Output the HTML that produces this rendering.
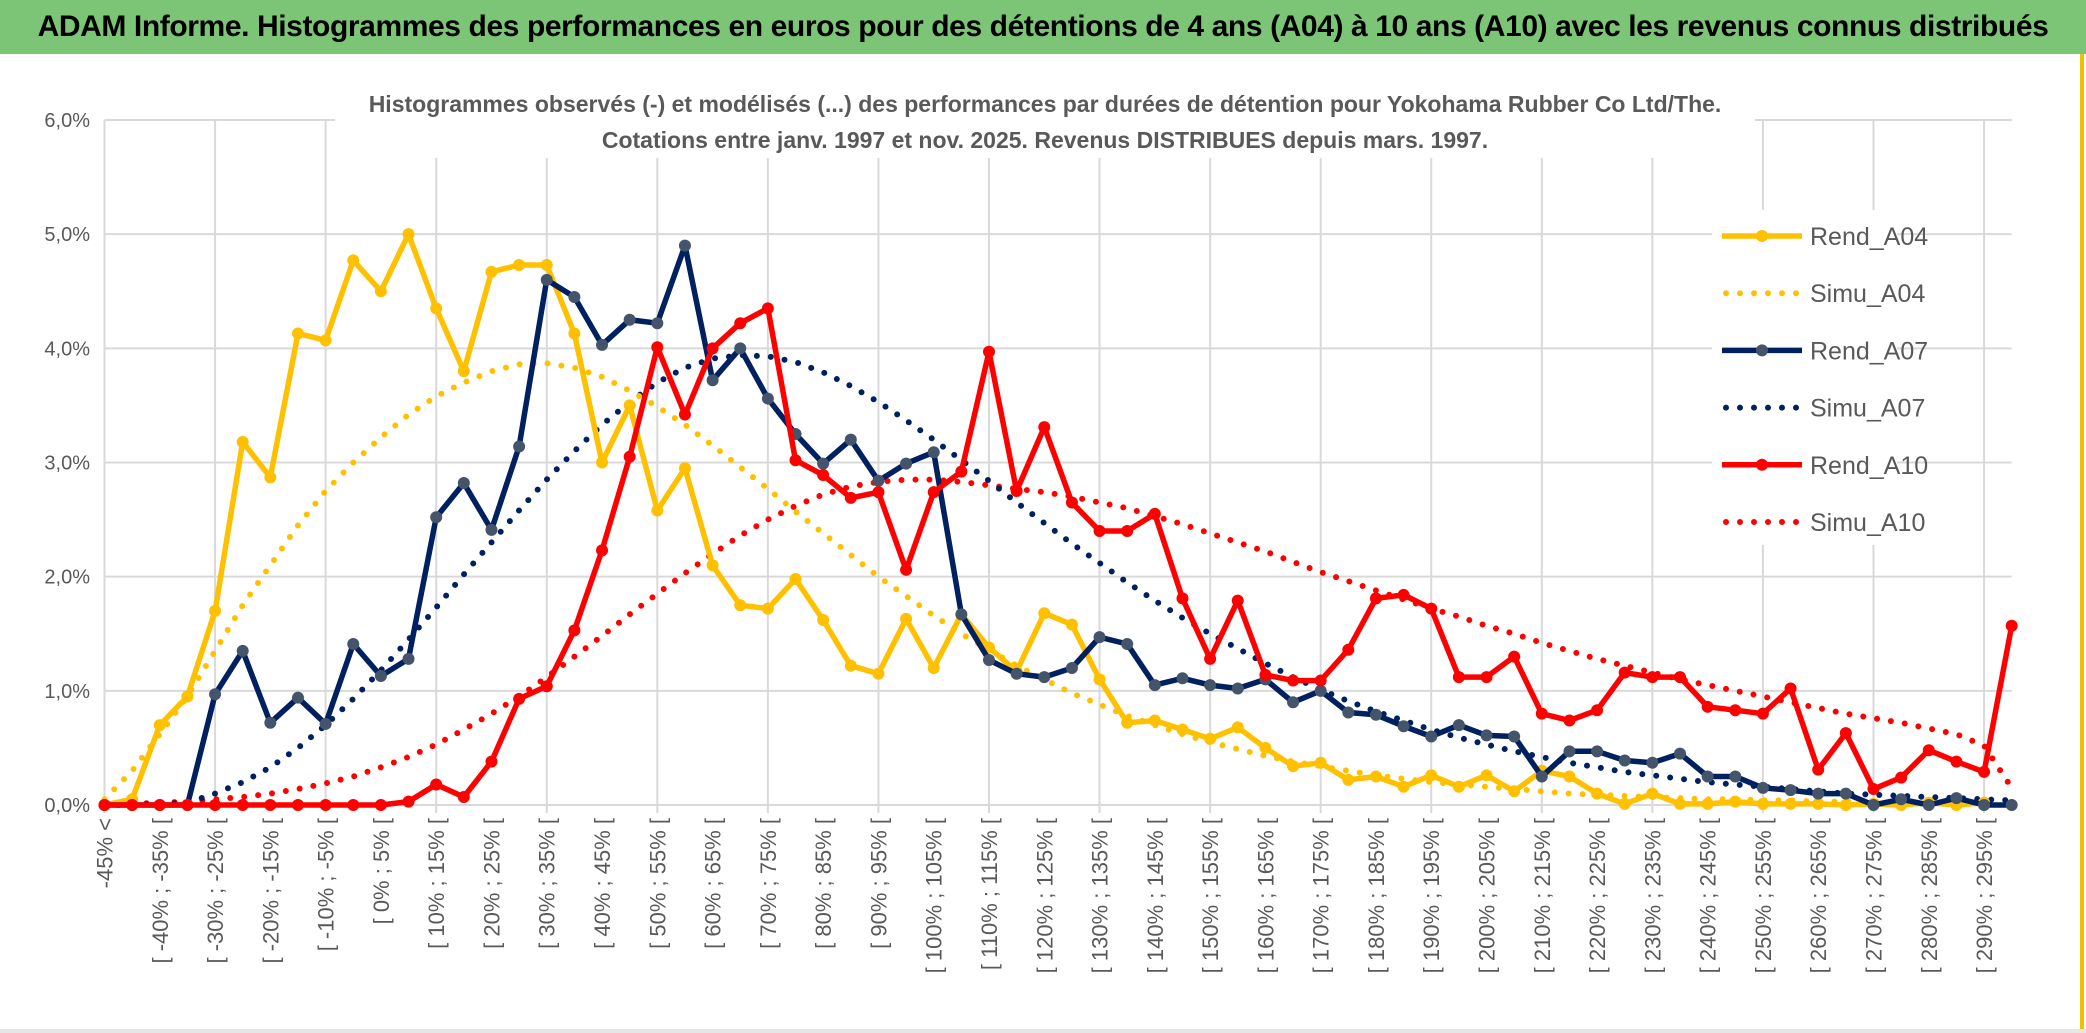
<!DOCTYPE html>
<html><head><meta charset="utf-8">
<style>
html,body{margin:0;padding:0;background:#fff;}
body{width:2086px;height:1033px;overflow:hidden;position:relative;font-family:"Liberation Sans",Arial,sans-serif;}
#title{position:absolute;left:0;top:0;width:2086px;height:54px;background:#7cc576;color:#000;font-weight:bold;font-size:30px;line-height:54px;text-align:center;white-space:nowrap;letter-spacing:-0.4px;}
#frame{position:absolute;left:2080px;top:54px;width:4px;height:979px;background:#f2c200;}
#frameb{position:absolute;left:0;top:1029px;width:2086px;height:4px;background:#e6e6e6;}
svg{position:absolute;left:0;top:0;}
</style></head>
<body>
<div id="title">ADAM Informe. Histogrammes des performances en euros pour des détentions de 4 ans (A04) à 10 ans (A10) avec les revenus connus distribués</div>
<div id="frame"></div>
<div id="frameb"></div>
<svg id="chart" width="2086" height="1033"></svg>
<script>
const categories=[];
categories.push("-45% <");
for(let v=-45;v<300;v+=5){categories.push("[ "+v+"% ; "+(v+5)+"% [");}
const rendA04=[0,0.05,0.7,0.95,1.7,3.18,2.87,4.13,4.07,4.77,4.5,5.0,4.35,3.8,4.67,4.73,4.73,4.13,3.0,3.5,2.58,2.95,2.1,1.75,1.72,1.98,1.62,1.22,1.15,1.63,1.2,1.67,1.38,1.17,1.68,1.58,1.1,0.72,0.74,0.66,0.58,0.68,0.5,0.34,0.37,0.22,0.25,0.16,0.26,0.16,0.26,0.12,0.3,0.25,0.1,0.01,0.1,0.01,0.01,0.03,0.01,0.01,0.01,0,0.01,0,0.02,0,0.02,null];
const simuA04=[0.05,0.3,0.62,0.95,1.35,1.75,2.1,2.45,2.75,3.0,3.22,3.42,3.58,3.7,3.8,3.86,3.87,3.83,3.75,3.63,3.49,3.33,3.15,2.96,2.77,2.57,2.38,2.19,2.0,1.83,1.66,1.5,1.36,1.22,1.1,0.98,0.88,0.78,0.7,0.62,0.55,0.49,0.43,0.38,0.34,0.3,0.26,0.23,0.2,0.18,0.16,0.14,0.12,0.1,0.09,0.08,0.07,0.06,0.05,0.05,0.04,0.04,0.03,0.03,0.03,0.02,0.02,0.02,null,null];
const rendA07=[0,0,0,0,0.97,1.35,0.72,0.94,0.71,1.41,1.13,1.28,2.52,2.82,2.41,3.14,4.6,4.45,4.03,4.25,4.22,4.9,3.72,4.0,3.56,3.25,2.99,3.2,2.84,2.99,3.09,1.67,1.27,1.15,1.12,1.2,1.47,1.41,1.05,1.11,1.05,1.02,1.1,0.9,1.0,0.81,0.79,0.69,0.6,0.7,0.61,0.6,0.25,0.47,0.47,0.39,0.37,0.45,0.25,0.25,0.15,0.13,0.1,0.1,0.0,0.05,0.0,0.06,0.0,0.0];
const simuA07=[0,0,0.01,0.02,0.1,0.2,0.33,0.5,0.7,0.93,1.18,1.45,1.73,2.02,2.3,2.58,2.85,3.1,3.33,3.53,3.7,3.83,3.91,3.94,3.93,3.88,3.79,3.67,3.53,3.37,3.2,3.02,2.84,2.65,2.47,2.29,2.12,1.95,1.79,1.64,1.5,1.37,1.24,1.12,1.01,0.91,0.82,0.74,0.66,0.59,0.53,0.47,0.42,0.37,0.33,0.29,0.26,0.23,0.2,0.18,0.16,0.14,0.12,0.1,0.09,0.08,0.07,0.06,0.05,0.04];
const rendA10=[0,0,0,0,0,0,0,0,0,0,0,0.03,0.18,0.07,0.38,0.93,1.04,1.53,2.23,3.05,4.01,3.42,4.0,4.22,4.35,3.02,2.89,2.69,2.74,2.06,2.74,2.92,3.97,2.75,3.31,2.65,2.4,2.4,2.55,1.81,1.28,1.79,1.14,1.09,1.09,1.36,1.81,1.84,1.72,1.12,1.12,1.3,0.8,0.74,0.83,1.16,1.12,1.12,0.86,0.83,0.8,1.02,0.31,0.63,0.14,0.24,0.48,0.38,0.29,1.57];
const simuA10=[0,0.01,0.02,0.03,0.05,0.07,0.1,0.14,0.19,0.25,0.33,0.42,0.53,0.66,0.8,0.95,1.12,1.3,1.48,1.67,1.85,2.03,2.2,2.36,2.5,2.62,2.72,2.79,2.83,2.85,2.85,2.83,2.8,2.77,2.74,2.7,2.65,2.6,2.53,2.46,2.38,2.3,2.22,2.13,2.04,1.96,1.88,1.8,1.72,1.65,1.57,1.5,1.42,1.35,1.28,1.22,1.16,1.1,1.05,1.0,0.95,0.9,0.85,0.8,0.76,0.72,0.67,0.62,0.52,0.15];
const yTicks=[0,1,2,3,4,5,6];
const yTickLabels=["0,0%","1,0%","2,0%","3,0%","4,0%","5,0%","6,0%"];
const seriesNames=["Rend_A04","Simu_A04","Rend_A07","Simu_A07","Rend_A10","Simu_A10"];

const NS="http://www.w3.org/2000/svg";
const svg=document.getElementById('chart');
const X0=104.5,X1=2011.7,Y0=805,Y6=120;
const xs=i=>X0+(X1-X0)*i/(categories.length-1);
const ys=v=>Y0-(Y0-Y6)*v/6;
function mk(tag,attrs,parent){const e=document.createElementNS(NS,tag);for(const k in attrs)e.setAttribute(k,attrs[k]);(parent||svg).appendChild(e);return e;}

const grid=mk('g',{});


yTicks.forEach((t,k)=>{
  const l=mk('line',{x1:X0,x2:X1,y1:ys(t),y2:ys(t),stroke:'#d9d9d9','stroke-width':2},grid);
  
  
  const tx=mk('text',{x:90,y:ys(t)+7,'text-anchor':'end','font-size':20,fill:'#595959'});
  tx.textContent=yTickLabels[k];
  
  
});
for(let i=0;i<categories.length;i+=4){
  const l=mk('line',{x1:xs(i),x2:xs(i),y1:Y6,y2:Y0+8,stroke:'#d9d9d9','stroke-width':2},grid);
  
  
}
categories.forEach((c,i)=>{
  if(i%2)return;
  const x=xs(i)+8,y=818;
  const t=mk('text',{x:x,y:y,'text-anchor':'end','font-size':22,fill:'#595959',transform:`rotate(-90 ${x} ${y})`});
  t.textContent=c;
  
  
});
const sb=mk('rect',{x:335,y:82,width:1420,height:76,fill:'#fff'});


const st1=mk('text',{x:1045,y:112,'text-anchor':'middle','font-size':23,'font-weight':'bold',fill:'#595959'});
st1.textContent="Histogrammes observés (-) et modélisés (...) des performances par durées de détention pour Yokohama Rubber Co Ltd/The.";


const st2=mk('text',{x:1045,y:148,'text-anchor':'middle','font-size':23,'font-weight':'bold',fill:'#595959'});
st2.textContent="Cotations entre janv. 1997 et nov. 2025. Revenus DISTRIBUES depuis mars. 1997.";



function pathOf(arr){let d='',pen=false;arr.forEach((v,i)=>{if(v===null){pen=false;return;}d+=(pen?'L':'M')+xs(i).toFixed(1)+' '+ys(v).toFixed(1);pen=true;});return d;}
function drawSim(arr,color,name){
  const p=mk('path',{d:pathOf(arr),fill:'none',stroke:color,'stroke-width':6,'stroke-linecap':'round','stroke-dasharray':'0 14'});
  
  
}
function drawRend(arr,color,mcolor,name){
  const g=mk('g',{});
  
  
  mk('path',{d:pathOf(arr),fill:'none',stroke:color,'stroke-width':5.5,'stroke-linejoin':'round'},g);
  arr.forEach((v,i)=>{if(v===null)return;
    const c=mk('circle',{cx:xs(i),cy:ys(v),r:6,fill:mcolor},g);
    
    
  });
}
drawSim(simuA10,'#ff0000','simu-a10-line');
drawSim(simuA07,'#002060','simu-a07-line');
drawSim(simuA04,'#ffc000','simu-a04-line');
drawRend(rendA04,'#ffc000','#ffc000','rend-a04-series');
drawRend(rendA07,'#002060','#44546a','rend-a07-series');
drawRend(rendA10,'#ff0000','#ff0000','rend-a10-series');

const lg=mk('g',{});


mk('rect',{x:1712,y:210,width:185,height:335,fill:'#fff'},lg);
const lcolors=['#ffc000','#ffc000','#002060','#002060','#ff0000','#ff0000'];
seriesNames.forEach((n,k)=>{
  const y=236+k*57.2;
  const e=mk('g',{},lg);
  
  
  if(k%2===0){
    mk('line',{x1:1722,x2:1802,y1:y,y2:y,stroke:lcolors[k],'stroke-width':5.5},e);
    mk('circle',{cx:1762,cy:y,r:6,fill:k===2?'#44546a':lcolors[k]},e);
  } else {
    mk('line',{x1:1726,x2:1800,y1:y,y2:y,stroke:lcolors[k],'stroke-width':6,'stroke-linecap':'round','stroke-dasharray':'0 14'},e);
  }
  const t=mk('text',{x:1810,y:y+9,'font-size':25,fill:'#595959'},e);
  t.textContent=n;
});
</script>
</body></html>
